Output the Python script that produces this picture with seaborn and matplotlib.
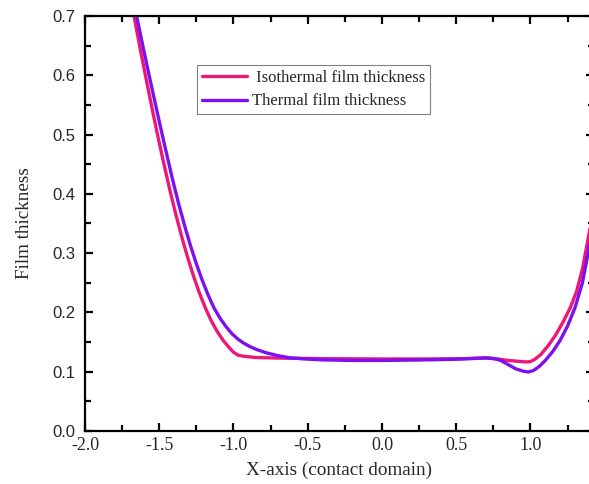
import matplotlib
matplotlib.use("Agg")
import matplotlib.pyplot as plt
import pandas as pd
import seaborn as sns
from matplotlib.ticker import MultipleLocator

# values
iso_x = [-1.71, -1.67, -1.63, -1.59, -1.55, -1.51, -1.47, -1.43, -1.39, -1.35,
         -1.31, -1.27, -1.23, -1.19, -1.15, -1.11, -1.07, -1.03, -1.00, -0.97,
         -0.93, -0.85, -0.70, -0.40, 0.00, 0.30, 0.55, 0.70, 0.78, 0.85,
         0.92, 0.97, 1.00, 1.03, 1.07, 1.12, 1.17, 1.22, 1.27, 1.31,
         1.35, 1.40, 1.45]
iso_y = [0.755, 0.700, 0.647, 0.596, 0.546, 0.498, 0.452, 0.408, 0.367, 0.329,
         0.294, 0.262, 0.233, 0.208, 0.186, 0.168, 0.153, 0.141, 0.133, 0.128,
         0.126, 0.124, 0.123, 0.122, 0.1215, 0.1215, 0.122, 0.123, 0.1215, 0.119,
         0.1175, 0.1165, 0.117, 0.121, 0.129, 0.144, 0.162, 0.184, 0.209, 0.235,
         0.273, 0.340, 0.410]

th_x = [-1.69, -1.65, -1.61, -1.57, -1.53, -1.49, -1.45, -1.41, -1.37, -1.33,
        -1.29, -1.25, -1.21, -1.17, -1.13, -1.09, -1.05, -1.01, -0.97, -0.93,
        -0.89, -0.84, -0.78, -0.70, -0.62, -0.52, -0.40, -0.20, 0.00, 0.25,
        0.50, 0.62, 0.70, 0.75, 0.80, 0.85, 0.90, 0.95, 0.985, 1.02,
        1.06, 1.10, 1.15, 1.20, 1.25, 1.30, 1.35, 1.40, 1.45]
th_y = [0.745, 0.697, 0.649, 0.602, 0.556, 0.511, 0.467, 0.424, 0.384, 0.347,
        0.313, 0.282, 0.254, 0.229, 0.207, 0.190, 0.176, 0.164, 0.155, 0.148,
        0.1425, 0.137, 0.132, 0.127, 0.1235, 0.1215, 0.120, 0.119, 0.119, 0.1198,
        0.121, 0.1225, 0.1235, 0.1225, 0.119, 0.112, 0.105, 0.101, 0.0995, 0.102,
        0.109, 0.119, 0.134, 0.153, 0.177, 0.208, 0.250, 0.315, 0.385]

sns.set_style("ticks")
plt.rcParams['font.family'] = ['Liberation Serif', 'DejaVu Serif']

df_iso = pd.DataFrame({'x': iso_x, 'y': iso_y})
df_th = pd.DataFrame({'x': th_x, 'y': th_y})

fig = plt.figure(figsize=(5.89, 4.84), dpi=100)
ax = fig.add_axes([85 / 589, 53 / 484, 509 / 589, 415 / 484])

sns.lineplot(data=df_iso, x='x', y='y', ax=ax, color='#EC1878', lw=2.4,
             label=' Isothermal film thickness', sort=False)
sns.lineplot(data=df_th, x='x', y='y', ax=ax, color='#7D10F2', lw=2.4,
             label='Thermal film thickness', sort=False)

ax.set_xlim(-2.0, 1.428)
ax.set_ylim(0.0, 0.7)
ax.xaxis.set_major_locator(MultipleLocator(0.5))
ax.xaxis.set_minor_locator(MultipleLocator(0.25))
ax.yaxis.set_major_locator(MultipleLocator(0.1))
ax.yaxis.set_minor_locator(MultipleLocator(0.05))
ax.xaxis.set_major_formatter(plt.FormatStrFormatter('%.1f'))
ax.yaxis.set_major_formatter(plt.FormatStrFormatter('%.1f'))

ax.tick_params(which='both', direction='in', top=True, right=True, color='black')
ax.tick_params(which='major', length=6, width=1.6)
ax.tick_params(which='minor', length=4, width=1.6)
ax.tick_params(axis='x', which='major', labelsize=13, pad=4)
ax.tick_params(axis='y', which='major', labelsize=12, pad=7)
for lab in ax.get_yticklabels():
    lab.set_family('Liberation Sans')

for s in ax.spines.values():
    s.set_linewidth(1.6)
    s.set_color('black')

ax.set_xlabel('X-axis (contact domain)', fontsize=13.8, labelpad=6)
ax.set_ylabel('Film thickness', fontsize=13.8, labelpad=14)

leg = ax.legend(loc='upper left', bbox_to_anchor=(0.221, 0.882), fontsize=12,
                frameon=True, fancybox=False, framealpha=1, edgecolor='#808080',
                handlelength=2.7, handletextpad=0.25, labelspacing=0.45,
                borderpad=0.3, borderaxespad=0)
leg.get_frame().set_linewidth(0.8)

fig.savefig('out.png', dpi=100)
